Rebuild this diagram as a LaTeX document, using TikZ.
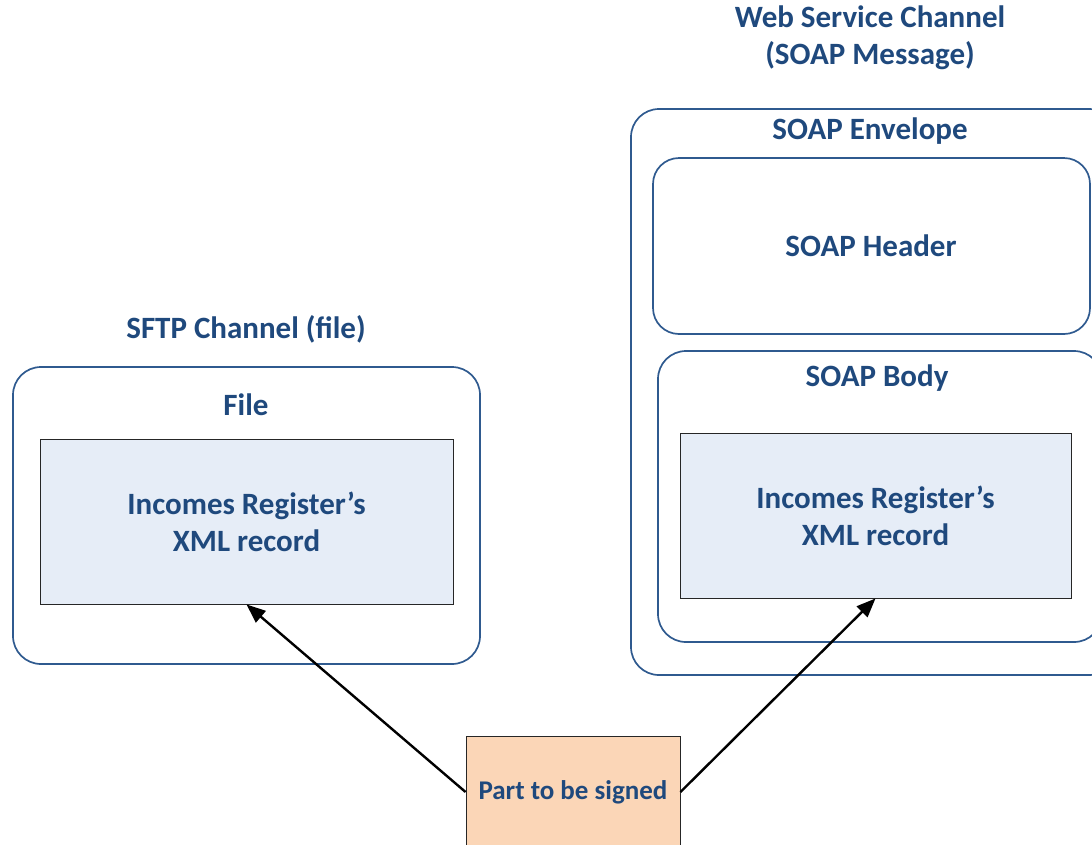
\documentclass[tikz,border=0pt]{standalone}
\usepackage{fontspec}
\setmainfont{Carlito}
\usetikzlibrary{arrows.meta}
\definecolor{txtblue}{HTML}{1F497D}
\definecolor{lineblue}{HTML}{2F5A8F}
\definecolor{recfill}{HTML}{E6EDF7}
\definecolor{signfill}{HTML}{FBD6B7}
\tikzset{
  container/.style={draw=lineblue, line width=1.7pt, rounded corners=28pt, inner sep=0pt, anchor=center},
  record/.style={draw=black!85, line width=0.9pt, fill=recfill, inner sep=0pt, anchor=center, font=\fontsize{31}{37}\selectfont\bfseries, text=txtblue, align=center},
  title/.style={font=\fontsize{31}{37}\selectfont\bfseries, text=txtblue, align=center, inner sep=0pt},
  signbox/.style={draw=black!85, line width=0.9pt, fill=signfill, inner sep=0pt, font=\fontsize{27}{30}\selectfont\bfseries, text=txtblue},
  sigarrow/.style={-{Triangle[length=19pt,width=15pt]}, line width=2.4pt, black}
}
\begin{document}
\begin{tikzpicture}[x=1pt,y=-1pt]
\useasboundingbox (0,0) rectangle (1092,844);
\clip (0,0) rectangle (1092,844);
% left
\node[container, minimum width=467pt, minimum height=297pt] (fileouter) at (246.5,515.5) {};
\node[title] (sftp) at (246,329) {SFTP Channel (file)};
\node[title] (file) at (246,405) {File};
\node[record, minimum width=413pt, minimum height=165pt] (recL) at (246.5,521.5) {Incomes Register’s\\XML record};
% right
\node[title] (ws) at (870,38) {Web Service Channel\\(SOAP Message)};
\node[container, minimum width=486pt, minimum height=566pt] (env) at (874,392) {};
\node[title] (envt) at (870,131) {SOAP Envelope};
\node[container, rounded corners=26pt, minimum width=437pt, minimum height=176pt] (hdr) at (871.5,246) {};
\node[title] (hdrt) at (871,246) {SOAP Header};
\node[container, minimum width=444pt, minimum height=291pt] (body) at (880,496.5) {};
\node[title] (bodyt) at (877,378) {SOAP Body};
\node[record, minimum width=391pt, minimum height=165pt] (recR) at (875.5,515.5) {Incomes Register’s\\XML record};
% part to be signed
\node[signbox, minimum width=214pt, minimum height=112pt] (sign) at (573,792) {Part to be signed};
\draw[sigarrow] (sign.west) -- (recL.south);
\draw[sigarrow] (sign.east) -- (recR.south);
\end{tikzpicture}
\end{document}
